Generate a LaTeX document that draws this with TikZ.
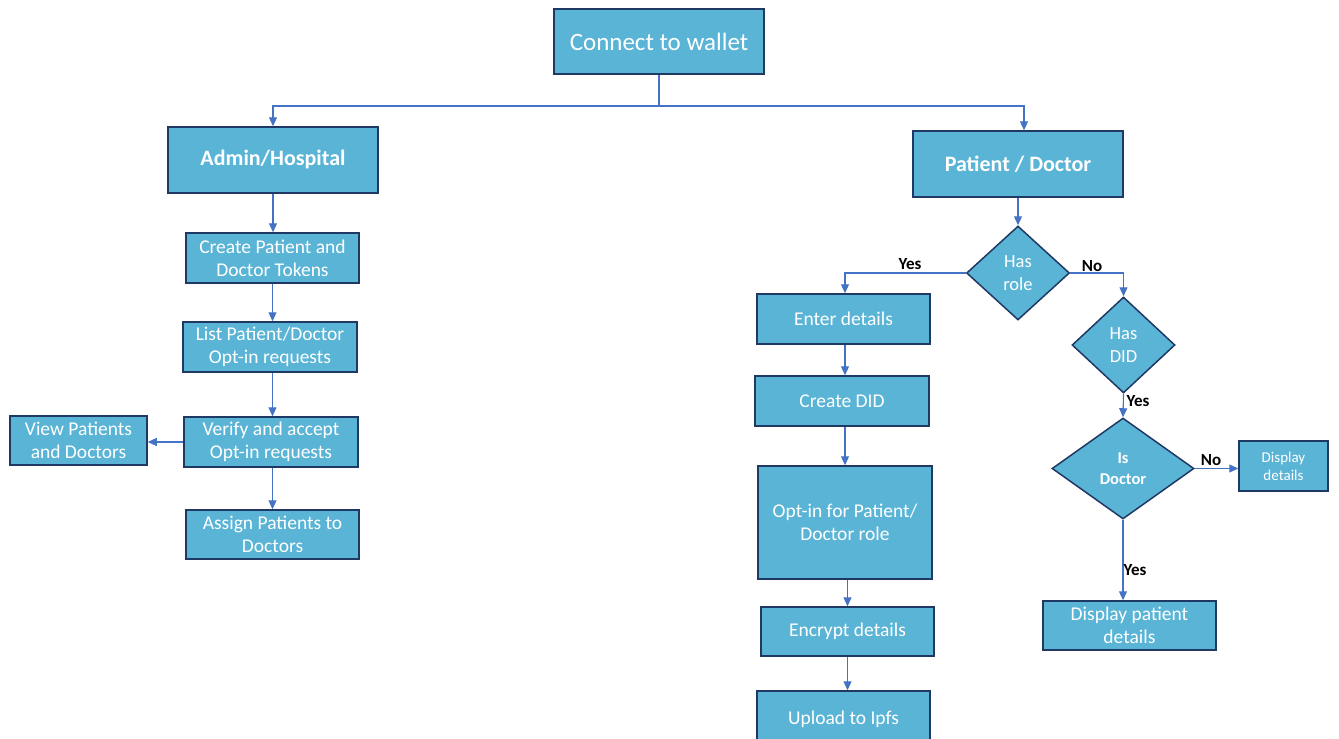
\documentclass[tikz,border=0pt]{standalone}
\usepackage{fontspec}
\setmainfont{Carlito}
\usetikzlibrary{shapes.geometric,arrows.meta,calc}
\definecolor{boxfill}{HTML}{5AB4D6}
\definecolor{boxline}{HTML}{1F3864}
\definecolor{connc}{HTML}{4472C4}
\begin{document}
\begin{tikzpicture}[x=1pt,y=-1pt,
 box/.style={draw=boxline,line width=1.5pt,fill=boxfill,text=white,align=center,inner sep=0pt,font=\fontsize{19.5}{23}\selectfont},
 dia/.style={diamond,draw=boxline,line width=1.5pt,fill=boxfill,text=white,align=center,inner sep=0pt,font=\fontsize{18.5}{23}\selectfont},
 link/.style={draw=connc,line width=1.1pt},
 conn/.style={link,-{Triangle[length=9pt,width=8pt]}},
 lab/.style={font=\bfseries\fontsize{17}{19}\selectfont,text=black,inner sep=0pt}]
\clip (0,0) rectangle (1339,739);
\fill[white] (0,0) rectangle (1339,739);

% top
\node[box,minimum width=210pt,minimum height=65pt,font=\fontsize{25}{28}\selectfont] (wallet) at (659,41.5) {Connect to wallet};
\node[box,minimum width=210pt,minimum height=66pt,font=\bfseries\fontsize{22}{24}\selectfont] (admin) at (273,160) {Admin/Hospital};
\node[box,minimum width=210pt,minimum height=66pt,font=\bfseries\fontsize{22}{24}\selectfont] (pd) at (1018,164) {Patient / Doctor};
\coordinate (split) at (659,106);

% left column
\node[box,minimum width=173pt,minimum height=50pt] (create) at (272.5,258) {Create Patient and\\Doctor Tokens};
\node[box,minimum width=174pt,minimum height=50pt] (list) at (270,347) {List Patient/Doctor\\Opt-in requests};
\node[box,minimum width=174pt,minimum height=50pt] (verify) at (271,442) {Verify and accept\\Opt-in requests};
\node[box,minimum width=137pt,minimum height=49pt] (view) at (78.5,440.5) {View Patients\\and Doctors};
\node[box,minimum width=173pt,minimum height=49pt] (assign) at (272.5,534.5) {Assign Patients to\\Doctors};

% right: diamonds
\node[dia,minimum width=103pt,minimum height=94pt] (hasrole) at (1018,273) {Has\\role};
\node[dia,minimum width=103pt,minimum height=96pt] (hasdid) at (1123.5,345) {Has\\DID};
\node[dia,minimum width=142pt,minimum height=101pt,font=\bfseries\fontsize{16.5}{21}\selectfont] (isdoc) at (1123,468.5) {Is\\Doctor};
\node[box,minimum width=89pt,minimum height=50pt,font=\fontsize{15}{18}\selectfont] (disp) at (1283.5,466) {Display\\details};
\node[box,minimum width=173pt,minimum height=49pt] (dpd) at (1129.5,625.5) {Display patient\\details};

% right: Yes branch column
\node[box,minimum width=173pt,minimum height=50pt] (enter) at (843.5,319) {Enter details};
\node[box,minimum width=174pt,minimum height=50pt] (did) at (842,401) {Create DID};
\node[box,minimum width=174pt,minimum height=113pt] (optin) at (845,522.5) {Opt-in for Patient/\\Doctor role};
\node[box,minimum width=173pt,minimum height=49pt] (encrypt) at (847.5,631.5) {Encrypt details};
\node[box,minimum width=173pt,minimum height=56pt] (upload) at (843.5,719) {Upload to Ipfs};

% connectors
\draw[link] (wallet.south) -- (split);
\draw[conn] (split) -| (admin.north);
\draw[conn] (split) -| ($(pd.north)+(6,0)$);

\draw[conn] (admin.south) -- (admin.south |- create.north);
\draw[conn] (create.south) -- (create.south |- list.north);
\draw[conn] (list.south -| create.south) -- (create.south |- verify.north);
\draw[conn] (verify.south -| create.south) -- (create.south |- assign.north);
\draw[conn] (verify.west) -- (verify.west -| view.east);

\draw[conn] (pd.south) -- (hasrole.north);
\draw[conn] (hasrole.west) -| (enter.north -| 845,0);
\draw[conn] (hasrole.east) -| (hasdid.north);
\draw[conn] (hasdid.south) -- (isdoc.north);
\draw[conn] (isdoc.east) -- (isdoc.east -| disp.west);
\draw[conn] (isdoc.south) -- (isdoc.south |- dpd.north);

\draw[conn] (enter.south -| 845,0) -- (845,0 |- did.north);
\draw[conn] (did.south -| 845,0) -- (845,0 |- optin.north);
\draw[conn] (optin.south -| encrypt.north) -- (encrypt.north);
\draw[conn] (encrypt.south) -- (encrypt.south |- upload.north);

% labels
\node[lab] (l1) at (910,264) {Yes};
\node[lab] (l2) at (1092,266) {No};
\node[lab] (l3) at (1138,401) {Yes};
\node[lab] (l4) at (1211,460) {No};
\node[lab] (l5) at (1135,570) {Yes};
\end{tikzpicture}
\end{document}
